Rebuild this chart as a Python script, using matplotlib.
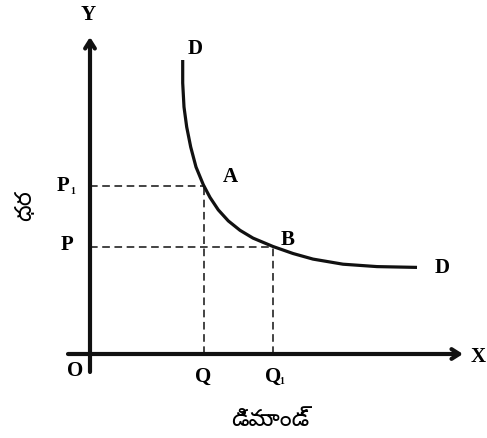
import matplotlib
matplotlib.use("Agg")
import matplotlib.pyplot as plt

# demand curve, measured from the origin (quantity right, price up)
curve_q = [92.7, 92.7, 94, 96.7, 100.7, 106, 113.3, 120, 128.3, 138.3, 150,
           163, 183, 203, 223, 253, 287, 327]
curve_p = [294, 271, 247, 227, 207, 187, 169.3, 156.6, 144.1, 133.1, 123.7,
           115.9, 107.5, 100.5, 94.9, 89.8, 87.4, 86.6]

point_a = (113.5, 168.5)
point_b = (183, 107.5)
axis_labels = ["Y", "X", "O"]
price_labels = ["P", "P"]
qty_labels = ["Q", "Q"]
x_title = "డిమాండ్"
y_title = "ధర"

telugu = ["Noto Sans Telugu", "Lohit Telugu", "Gurajada", "Pothana2000",
          "DejaVu Sans"]
bold = dict(family="Liberation Serif", weight="bold", fontsize=15)
sub = dict(family="Liberation Serif", weight="bold", fontsize=7)

fig = plt.figure(figsize=(4.87, 4.38), dpi=100)
ax = fig.add_axes([0, 0, 1, 1])
ax.set_xlim(-90, 397)
ax.set_ylim(-84, 354)
ax.axis("off")

# axes with open arrow heads
arrow = dict(arrowstyle="->,head_length=0.55,head_width=0.35", lw=3,
             color="#111111", shrinkA=0, shrinkB=0)
ax.annotate("", xy=(0, 317), xytext=(0, -18), arrowprops=arrow)
ax.annotate("", xy=(373, 0), xytext=(-22, 0), arrowprops=arrow)

# demand curve
ax.plot(curve_q, curve_p, color="#111111", lw=2.3, solid_capstyle="butt",
        solid_joinstyle="round")

# dashed guides
dash = dict(color="#111111", lw=1.1, dashes=(5, 3))
for q, p in [point_a, point_b]:
    ax.plot([0, q], [p, p], **dash)
    ax.plot([q, q], [0, p], **dash)

# letters
ax.text(-2, 339, axis_labels[0], ha="center", va="center", **bold)
ax.text(388, -3, axis_labels[1], ha="center", va="center", **bold)
ax.text(-15, -17, axis_labels[2], ha="center", va="center", **bold)
ax.text(105, 305, "D", ha="center", va="center", **bold)
ax.text(352, 86, "D", ha="center", va="center", **bold)
ax.text(140, 177, "A", ha="center", va="center", **bold)
ax.text(198, 114, "B", ha="center", va="center", **bold)

ax.text(-27, 168, price_labels[0], ha="center", va="center", **bold)
ax.text(-17, 162, "1", ha="center", va="center", **sub)
ax.text(-23, 109, price_labels[1], ha="center", va="center", **bold)

ax.text(point_a[0], -23, qty_labels[0], ha="center", va="center", **bold)
ax.text(point_b[0], -23, qty_labels[1], ha="center", va="center", **bold)
ax.text(point_b[0] + 9, -28, "1", ha="center", va="center", **sub)

ax.text(180, -66, x_title, ha="center", va="center", family=telugu,
        fontsize=17)
ax.text(-65, 148, y_title, ha="center", va="center", rotation=90,
        family=telugu, fontsize=17)

fig.savefig("out.png", dpi=100, facecolor="white")
